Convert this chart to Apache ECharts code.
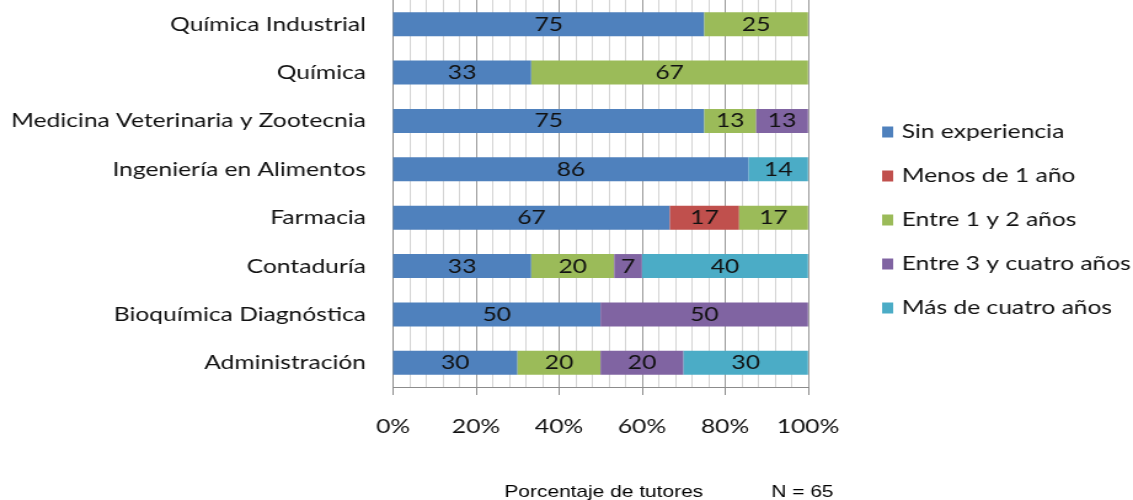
<!DOCTYPE html>
<html><head><meta charset="utf-8">
<script src="https://cdn.jsdelivr.net/npm/echarts@6/dist/echarts.min.js"></script>
<style>
html,body{margin:0;padding:0;background:#fff;overflow:hidden}
#wrap{width:1133px;height:500px;overflow:hidden}
#c{width:921px;height:500px;transform:scaleX(1.2302);transform-origin:0 0}
</style>
</head><body><div id="wrap"><div id="c"></div></div>
<script>
const categories = ['Química Industrial','Química','Medicina Veterinaria y Zootecnia','Ingeniería en Alimentos','Farmacia','Contaduría','Bioquímica Diagnóstica','Administración'];
const seriesNames = ['Sin experiencia','Menos de 1 año','Entre 1 y 2 años','Entre 3 y cuatro años','Más de cuatro años'];
const sinExperiencia = [75, 33.3, 75, 85.7, 66.7, 33.3, 50, 30];
const menosDe1 = [0, 0, 0, 0, 16.7, 0, 0, 0];
const entre1y2 = [25, 66.7, 12.5, 0, 16.6, 20, 0, 20];
const entre3y4 = [0, 0, 12.5, 0, 0, 6.7, 50, 20];
const masDe4 = [0, 0, 0, 14.3, 0, 40, 0, 30];
const xTicks = [0, 20, 40, 60, 80, 100];
const colors = ['#4F81BD','#C0504D','#9BBB59','#8064A2','#4BACC6'];
const FONT = 'Lato';
const TXT = '#111';
const seriesData = [sinExperiencia, menosDe1, entre1y2, entre3y4, masDe4];
const chart = echarts.init(document.getElementById('c'));
chart.setOption({
  animation: false,
  color: colors,
  textStyle: {fontFamily: FONT},
  title: [
    {text: 'Porcentaje de tutores', left: 405, top: 479, textStyle: {fontFamily: 'Liberation Sans', fontSize: 17, fontWeight: 'normal', color: '#000'}},
    {text: 'N = 65', left: 622, top: 479, textStyle: {fontFamily: 'Liberation Sans', fontSize: 17, fontWeight: 'normal', color: '#000'}}
  ],
  legend: {
    orient: 'vertical', left: 712, top: 117,
    itemWidth: 9, itemHeight: 11, itemGap: 24,
    icon: 'rect',
    textStyle: {fontFamily: FONT, fontSize: 20, color: TXT, padding: [0,0,0,2]},
    data: seriesNames
  },
  grid: {left: 319.5, top: 0, width: 337.3, height: 387, containLabel: false},
  xAxis: {
    type: 'value', min: 0, max: 100, interval: 20,
    axisLine: {show: true, lineStyle: {color: '#8c8c8c', width: 1}},
    axisTick: {show: true, length: 8, inside: false, lineStyle: {color: '#8c8c8c'}},
    minorTick: {show: false, splitNumber: 5},
    splitLine: {show: true, lineStyle: {color: '#9a9a9a', width: 1}},
    minorSplitLine: {show: true, lineStyle: {color: '#d4d4d4', width: 1}},
    axisLabel: {formatter: v => xTicks.includes(v) ? v + '%' : '', fontFamily: FONT, fontSize: 20, color: TXT, margin: 30}
  },
  yAxis: {
    type: 'category', data: categories, inverse: true,
    axisLine: {show: true, lineStyle: {color: '#8c8c8c'}},
    axisTick: {show: false},
    axisLabel: {fontFamily: FONT, fontSize: 20, color: TXT, margin: 22}
  },
  series: seriesNames.map((n, i) => ({
    name: n, type: 'bar', stack: 'total', barWidth: 24,
    data: seriesData[i],
    label: {show: true, position: 'inside', fontFamily: FONT, fontSize: 20, color: TXT,
      formatter: p => p.value > 0 ? String(Math.round(p.value)) : ''}
  }))
});
</script></body></html>
